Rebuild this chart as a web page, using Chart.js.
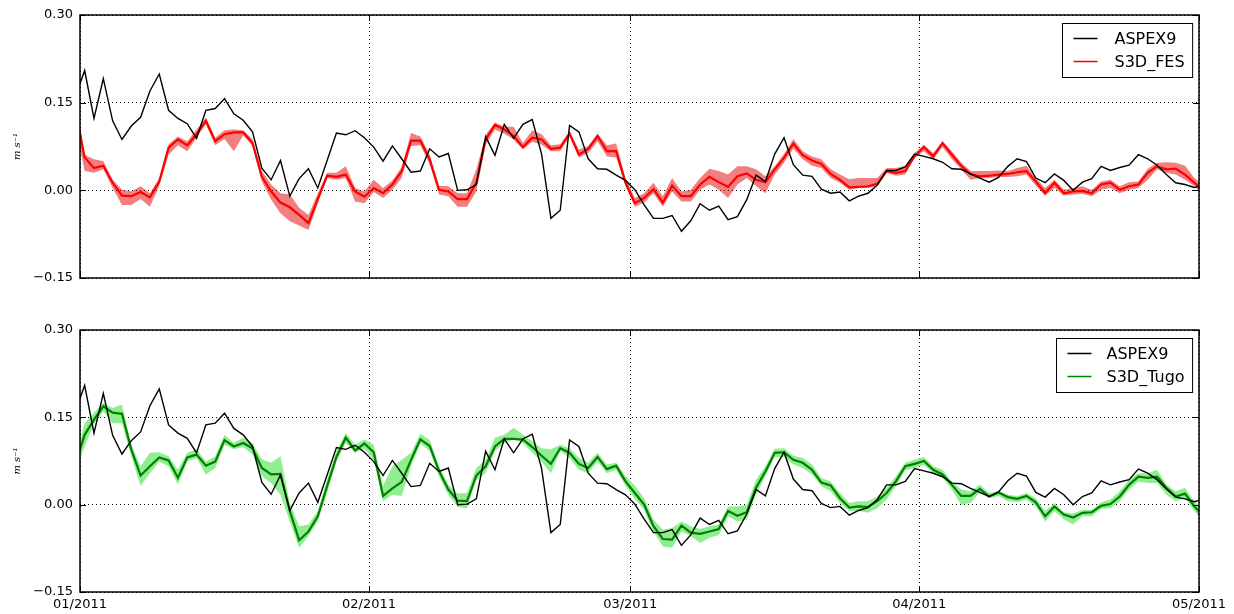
<!DOCTYPE html>
<html lang="en">
<head>
<meta charset="UTF-8">
<title>ASPEX9 vs S3D models</title>
<script src="https://cdn.jsdelivr.net/npm/chart.js"></script>
<style>
  body { margin: 0; background: #fff; width: 1234px; height: 614px; overflow: hidden; position: relative; }
  canvas { position: absolute; left: 0; }
  #top { top: 0; }
  #bottom { top: 300px; }
</style>
</head>
<body>
<canvas id="top" width="1234" height="300"></canvas>
<canvas id="bottom" width="1234" height="314"></canvas>
<script>
// daily values, first point is 31/12/2010 12h, then every day at noon up to 01/05/2011 12h
const monthDays = [0, 31, 59, 90, 120];
const monthLabels = ["01/2011", "02/2011", "03/2011", "04/2011", "05/2011"];
const yTicks = [-0.15, 0, 0.15, 0.30];

const aspex = [0.160,
  0.205, 0.123, 0.191, 0.119, 0.087, 0.110, 0.125, 0.170, 0.199, 0.137,
  0.123, 0.114, 0.089, 0.137, 0.140, 0.157, 0.131, 0.120, 0.100, 0.038,
  0.018, 0.051, -0.010, 0.020, 0.037, 0.004, 0.051, 0.098, 0.095, 0.102,
  0.090, 0.074, 0.050, 0.076, 0.054, 0.031, 0.033, 0.071, 0.057, 0.063,
  0.000, 0.001, 0.010, 0.092, 0.060, 0.113, 0.089, 0.113, 0.121, 0.062,
  -0.048, -0.034, 0.111, 0.100, 0.054, 0.037, 0.036, 0.026, 0.017, 0.001,
  -0.025, -0.048, -0.048, -0.043, -0.070, -0.052, -0.023, -0.034, -0.027, -0.050,
  -0.045, -0.016, 0.026, 0.015, 0.062, 0.090, 0.044, 0.026, 0.024, 0.002,
  -0.005, -0.003, -0.018, -0.010, -0.005, 0.009, 0.034, 0.034, 0.040, 0.062,
  0.058, 0.054, 0.048, 0.037, 0.036, 0.028, 0.021, 0.014, 0.022, 0.041,
  0.054, 0.049, 0.021, 0.013, 0.028, 0.017, 0.000, 0.014, 0.020, 0.041,
  0.034, 0.039, 0.043, 0.061, 0.054, 0.043, 0.027, 0.013, 0.010, 0.005,
  0.009];

const fes = [0.140,
  0.056, 0.038, 0.042, 0.013, -0.009, -0.010, -0.003, -0.012, 0.015, 0.073,
  0.087, 0.077, 0.096, 0.119, 0.084, 0.096, 0.099, 0.099, 0.081, 0.023,
  -0.002, -0.021, -0.029, -0.042, -0.056, -0.015, 0.025, 0.023, 0.027, -0.002,
  -0.011, 0.004, -0.005, 0.010, 0.033, 0.085, 0.085, 0.053, 0.001, -0.002,
  -0.015, -0.015, 0.013, 0.087, 0.112, 0.104, 0.093, 0.074, 0.090, 0.087,
  0.071, 0.073, 0.097, 0.061, 0.071, 0.093, 0.067, 0.067, 0.013, -0.022,
  -0.013, 0.002, -0.021, 0.008, -0.010, -0.010, 0.010, 0.023, 0.014, 0.006,
  0.024, 0.029, 0.018, 0.014, 0.036, 0.056, 0.080, 0.060, 0.051, 0.045,
  0.028, 0.018, 0.005, 0.006, 0.007, 0.011, 0.033, 0.030, 0.033, 0.058,
  0.074, 0.058, 0.081, 0.061, 0.042, 0.028, 0.024, 0.025, 0.027, 0.028,
  0.031, 0.033, 0.015, -0.005, 0.013, -0.005, -0.002, -0.001, -0.005, 0.010,
  0.013, 0.001, 0.007, 0.010, 0.030, 0.041, 0.036, 0.037, 0.027, 0.013,
  0.000];

const fesHi = [0.155,
  0.061, 0.053, 0.050, 0.018, 0.001, -0.002, 0.007, -0.005, 0.021, 0.079,
  0.092, 0.084, 0.104, 0.124, 0.090, 0.103, 0.104, 0.103, 0.088, 0.033,
  0.010, -0.005, -0.007, -0.030, -0.042, -0.005, 0.030, 0.030, 0.041, 0.004,
  -0.002, 0.018, 0.004, 0.017, 0.040, 0.098, 0.092, 0.061, 0.008, 0.007,
  -0.005, -0.005, 0.036, 0.095, 0.116, 0.109, 0.109, 0.081, 0.103, 0.096,
  0.077, 0.079, 0.101, 0.070, 0.076, 0.097, 0.077, 0.080, 0.021, -0.013,
  -0.005, 0.013, -0.010, 0.021, -0.002, 0.001, 0.021, 0.037, 0.033, 0.027,
  0.041, 0.041, 0.036, 0.024, 0.041, 0.062, 0.088, 0.067, 0.058, 0.053,
  0.036, 0.027, 0.019, 0.021, 0.021, 0.021, 0.038, 0.038, 0.042, 0.064,
  0.078, 0.064, 0.084, 0.067, 0.047, 0.033, 0.033, 0.033, 0.034, 0.033,
  0.038, 0.042, 0.021, 0.004, 0.018, 0.001, 0.004, 0.007, 0.001, 0.015,
  0.018, 0.007, 0.014, 0.015, 0.037, 0.047, 0.048, 0.047, 0.042, 0.021,
  0.008];

const fesLo = [0.110,
  0.033, 0.030, 0.036, 0.004, -0.025, -0.025, -0.015, -0.028, 0.008, 0.061,
  0.077, 0.067, 0.090, 0.113, 0.077, 0.088, 0.067, 0.094, 0.076, 0.015,
  -0.016, -0.039, -0.053, -0.060, -0.068, -0.022, 0.021, 0.018, 0.021, -0.019,
  -0.022, -0.003, -0.013, 0.001, 0.021, 0.076, 0.077, 0.044, -0.007, -0.010,
  -0.028, -0.028, -0.002, 0.078, 0.104, 0.097, 0.087, 0.070, 0.083, 0.078,
  0.067, 0.067, 0.093, 0.056, 0.064, 0.084, 0.058, 0.056, 0.007, -0.028,
  -0.021, -0.005, -0.028, -0.002, -0.019, -0.019, 0.001, 0.010, 0.001, -0.013,
  0.010, 0.021, 0.007, -0.005, 0.027, 0.047, 0.071, 0.053, 0.042, 0.038,
  0.021, 0.013, 0.001, 0.004, 0.004, 0.007, 0.030, 0.025, 0.027, 0.056,
  0.067, 0.053, 0.074, 0.053, 0.036, 0.018, 0.021, 0.021, 0.023, 0.023,
  0.024, 0.027, 0.008, -0.009, 0.004, -0.009, -0.007, -0.006, -0.010, 0.001,
  0.004, -0.005, 0.001, 0.004, 0.018, 0.036, 0.030, 0.027, 0.018, 0.007,
  -0.008];

const tugo = [0.070,
  0.120, 0.146, 0.169, 0.158, 0.156, 0.095, 0.050, 0.066, 0.081, 0.076,
  0.046, 0.081, 0.086, 0.067, 0.074, 0.111, 0.100, 0.106, 0.097, 0.063,
  0.052, 0.053, -0.011, -0.061, -0.046, -0.020, 0.032, 0.082, 0.115, 0.093,
  0.105, 0.090, 0.015, 0.028, 0.039, 0.077, 0.112, 0.101, 0.058, 0.026,
  0.007, 0.006, 0.050, 0.066, 0.100, 0.113, 0.113, 0.112, 0.099, 0.084,
  0.070, 0.097, 0.089, 0.070, 0.063, 0.082, 0.061, 0.067, 0.040, 0.020,
  0.000, -0.037, -0.059, -0.060, -0.036, -0.048, -0.050, -0.046, -0.042, -0.011,
  -0.019, -0.013, 0.029, 0.057, 0.089, 0.090, 0.077, 0.072, 0.060, 0.038,
  0.033, 0.011, -0.005, -0.003, -0.004, 0.006, 0.020, 0.040, 0.066, 0.070,
  0.075, 0.060, 0.052, 0.034, 0.015, 0.015, 0.027, 0.014, 0.021, 0.013,
  0.010, 0.015, 0.004, -0.020, -0.003, -0.017, -0.022, -0.014, -0.013, -0.002,
  0.001, 0.014, 0.034, 0.048, 0.046, 0.048, 0.029, 0.014, 0.019, -0.003,
  -0.020];

const tugoHi = [0.080,
  0.140, 0.158, 0.175, 0.166, 0.172, 0.103, 0.066, 0.089, 0.090, 0.083,
  0.060, 0.089, 0.095, 0.074, 0.083, 0.120, 0.106, 0.115, 0.106, 0.078,
  0.072, 0.083, 0.003, -0.037, -0.034, -0.011, 0.043, 0.092, 0.123, 0.103,
  0.112, 0.103, 0.032, 0.066, 0.077, 0.089, 0.122, 0.111, 0.066, 0.034,
  0.019, 0.020, 0.063, 0.077, 0.115, 0.120, 0.132, 0.120, 0.109, 0.097,
  0.095, 0.103, 0.097, 0.080, 0.072, 0.089, 0.069, 0.072, 0.049, 0.033,
  0.011, -0.026, -0.043, -0.040, -0.029, -0.037, -0.042, -0.037, -0.034, -0.003,
  -0.003, 0.000, 0.043, 0.066, 0.096, 0.097, 0.084, 0.080, 0.069, 0.046,
  0.040, 0.020, 0.003, 0.006, 0.006, 0.014, 0.029, 0.049, 0.072, 0.077,
  0.082, 0.066, 0.060, 0.040, 0.026, 0.023, 0.034, 0.020, 0.024, 0.017,
  0.015, 0.020, 0.011, -0.011, 0.003, -0.013, -0.015, -0.009, -0.009, 0.004,
  0.009, 0.023, 0.043, 0.054, 0.054, 0.060, 0.034, 0.023, 0.029, 0.006,
  -0.010];

const tugoLo = [0.055,
  0.100, 0.138, 0.160, 0.140, 0.140, 0.083, 0.032, 0.054, 0.074, 0.066,
  0.034, 0.074, 0.080, 0.052, 0.063, 0.103, 0.095, 0.099, 0.086, 0.049,
  0.037, 0.017, -0.029, -0.074, -0.054, -0.029, 0.020, 0.074, 0.106, 0.089,
  0.096, 0.077, 0.006, 0.017, 0.015, 0.066, 0.105, 0.092, 0.049, 0.017,
  -0.004, -0.006, 0.043, 0.054, 0.092, 0.106, 0.112, 0.106, 0.089, 0.074,
  0.054, 0.092, 0.080, 0.060, 0.054, 0.074, 0.054, 0.060, 0.032, 0.010,
  -0.009, -0.046, -0.072, -0.074, -0.046, -0.054, -0.066, -0.057, -0.052, -0.020,
  -0.029, -0.026, 0.017, 0.049, 0.082, 0.082, 0.069, 0.063, 0.052, 0.032,
  0.023, 0.003, -0.011, -0.011, -0.014, -0.006, 0.009, 0.032, 0.059, 0.063,
  0.068, 0.054, 0.046, 0.026, 0.000, 0.003, 0.021, 0.011, 0.015, 0.006,
  0.004, 0.009, -0.003, -0.029, -0.011, -0.025, -0.034, -0.020, -0.020, -0.007,
  -0.006, 0.006, 0.026, 0.040, 0.037, 0.037, 0.017, 0.006, 0.011, -0.011,
  -0.030];

// x position of value k: day k - 0.5 (noon)
const pts = arr => arr.map((v, k) => ({ x: k - 0.5, y: v }));
const tickFont = { family: "DejaVu Sans", size: 13 };
const fmtY = v => Math.abs(v) < 1e-9 ? "0.00" : (v < 0 ? "\u2212" : "") + Math.abs(v).toFixed(2);

// box around the axes, inward ticks, and the legend box
const framePlugin = {
  id: "frame",
  afterDraw(chart, args, opts) {
    const { ctx, chartArea: a } = chart;
    const x = chart.scales.x, y = chart.scales.y;
    ctx.save();
    ctx.strokeStyle = "#000";
    ctx.lineWidth = 1;
    ctx.beginPath();
    yTicks.forEach(v => {
      const py = Math.round(y.getPixelForValue(v)) + 0.5;
      ctx.moveTo(a.left, py); ctx.lineTo(a.left + 6, py);
      ctx.moveTo(a.right, py); ctx.lineTo(a.right - 6, py);
    });
    monthDays.forEach(d => {
      const px = Math.round(x.getPixelForValue(d)) + 0.5;
      ctx.moveTo(px, a.top); ctx.lineTo(px, a.top + 6);
      ctx.moveTo(px, a.bottom); ctx.lineTo(px, a.bottom - 6);
    });
    ctx.stroke();
    ctx.lineWidth = 1.5;
    ctx.strokeRect(a.left, a.top, a.right - a.left, a.bottom - a.top);

    // legend
    const items = chart.data.datasets.filter(d => d.inLegend);
    ctx.font = "16px 'DejaVu Sans'";
    const tw = Math.max(...items.map(d => ctx.measureText(d.label).width));
    const w = opts.textGap + tw + 8, h = 54;
    const bx = Math.round(a.right - 7 - w) + 0.5, by = Math.round(a.top + 8) + 0.5;
    ctx.fillStyle = "#fff";
    ctx.fillRect(bx, by, w, h);
    ctx.lineWidth = 1;
    ctx.strokeRect(bx, by, w, h);
    items.forEach((d, i) => {
      const ly = by + 15 + i * 23;
      ctx.strokeStyle = d.borderColor;
      ctx.lineWidth = 1.5;
      ctx.beginPath();
      ctx.moveTo(bx + 11, ly); ctx.lineTo(bx + 35, ly);
      ctx.stroke();
      ctx.fillStyle = "#000";
      ctx.textBaseline = "middle";
      ctx.fillText(d.label, bx + opts.textGap, ly + 1);
    });
    ctx.restore();
  }
};

function panel(id, name, line, hi, lo, color, band, showX, padTop, textGap) {
  return new Chart(document.getElementById(id), {
    type: "line",
    data: {
      datasets: [
        { label: "ASPEX9", data: pts(aspex), borderColor: "#000", borderWidth: 1.4, order: 0, inLegend: true },
        { label: name, data: pts(line), borderColor: color, borderWidth: 2.2, order: 1, inLegend: true },
        { label: name + " max", data: pts(hi), borderColor: "transparent", borderWidth: 0, backgroundColor: band, fill: "+1", order: 2 },
        { label: name + " min", data: pts(lo), borderColor: "transparent", borderWidth: 0, fill: false, order: 3 }
      ]
    },
    options: {
      responsive: false,
      animation: false,
      events: [],
      layout: { padding: { top: padTop, right: 35, left: 0, bottom: 0 } },
      elements: { point: { radius: 0 }, line: { tension: 0 } },
      plugins: { legend: { display: false }, tooltip: { enabled: false }, frame: { textGap: textGap } },
      scales: {
        x: {
          type: "linear", min: 0, max: 120,
          afterBuildTicks: s => { s.ticks = monthDays.map(v => ({ value: v })); },
          afterFit: s => { s.height = 22; },
          ticks: { display: showX, autoSkip: false, maxRotation: 0, padding: 5, color: "#000", font: tickFont,
                   callback: (v, i) => monthLabels[i] },
          grid: { color: "#000", lineWidth: 1, drawTicks: false },
          border: { display: false, dash: [1, 3] }
        },
        y: {
          min: -0.15, max: 0.30,
          afterBuildTicks: s => { s.ticks = yTicks.map(v => ({ value: v })); },
          afterFit: s => { s.width = 80; },
          ticks: { padding: 7, color: "#000", font: tickFont, callback: fmtY },
          grid: { color: "#000", lineWidth: 1, drawTicks: false },
          border: { display: false, dash: [1, 3] },
          title: { display: true, text: "m s\u207B\u00B9", color: "#000",
                   font: { family: "DejaVu Serif", style: "italic", size: 10 },
                   padding: { top: 11, bottom: 0 } }
        }
      }
    },
    plugins: [framePlugin]
  });
}

panel("top", "S3D_FES", fes, fesHi, fesLo, "#ff0000", "rgba(230,0,0,0.5)", false, 15, 52);
panel("bottom", "S3D_Tugo", tugo, tugoHi, tugoLo, "#008000", "#90ee90", true, 30, 50);
</script>
</body>
</html>
